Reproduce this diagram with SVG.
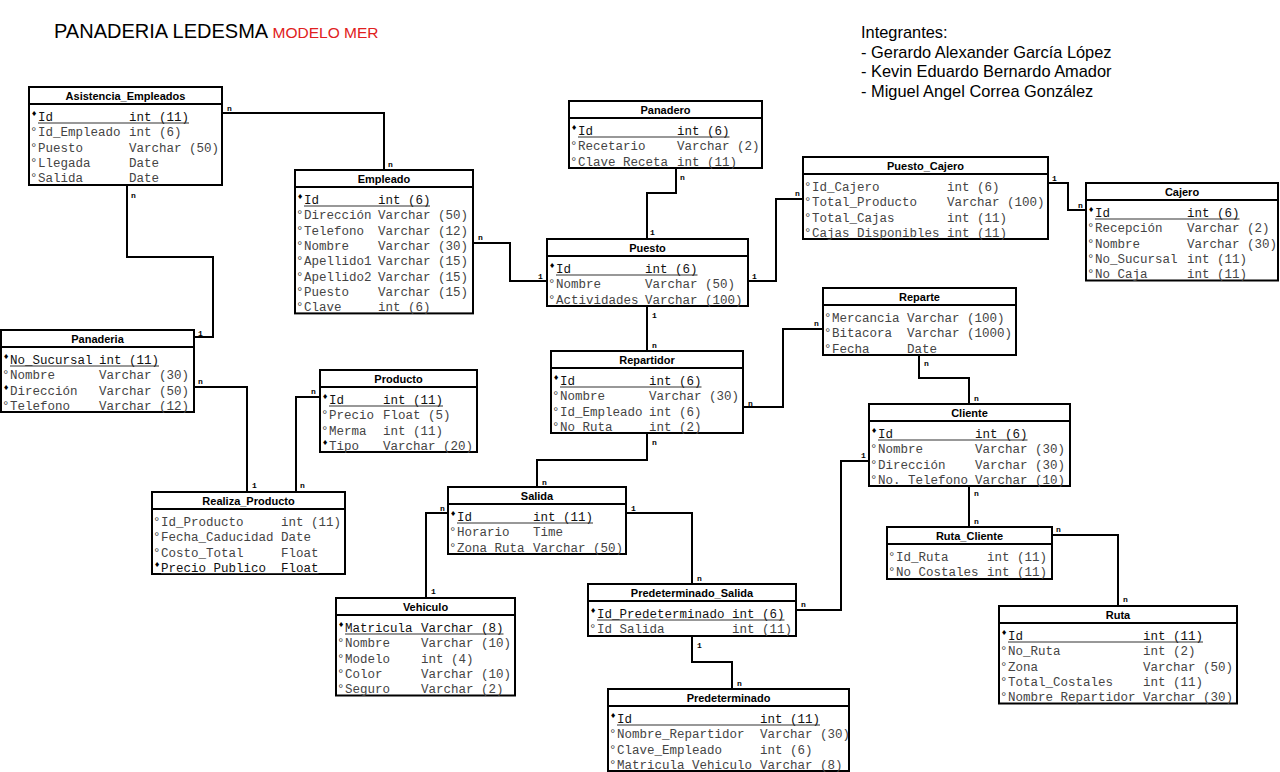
<svg xmlns="http://www.w3.org/2000/svg" width="1280" height="772" viewBox="0 0 1280 772">
<style>
.box{fill:#fff;stroke:#000;stroke-width:2}
.sep{stroke:#000;stroke-width:2}
.ttl{font-family:"Liberation Sans",Arial,sans-serif;font-weight:bold;font-size:11px;text-anchor:middle;fill:#000}
.a{font-family:"Liberation Mono","Courier New",monospace;font-size:12.5px;fill:#444}
.k{font-family:"Liberation Mono","Courier New",monospace;font-size:12.5px;fill:#111}
.d{font-family:"DejaVu Sans",sans-serif;font-size:7px;fill:#000}
.ul{stroke:#333;stroke-width:1.2}
.cn{fill:none;stroke:#000;stroke-width:2}
.lb{font-family:"Liberation Mono","Courier New",monospace;font-size:8px;font-weight:bold;fill:#000}
.hd{font-family:"Liberation Sans",Arial,sans-serif;fill:#000}
</style>
<rect width="1280" height="772" fill="#fff"/>
<g id="header">
<text class="hd" x="54" y="38" font-size="20">PANADERIA LEDESMA <tspan fill="#e02020" font-size="15.5">MODELO MER</tspan></text>
<text class="hd" x="861" y="38" font-size="16.4">Integrantes:</text>
<text class="hd" x="861" y="57.5" font-size="16.4">- Gerardo Alexander García López</text>
<text class="hd" x="861" y="77" font-size="16.4">- Kevin Eduardo Bernardo Amador</text>
<text class="hd" x="861" y="96.5" font-size="16.4">- Miguel Angel Correa González</text>
</g>
<g id="connectors">
<path class="cn" d="M222,113 H384 V170"/><text class="lb" x="227" y="111">n</text><text class="lb" x="388" y="167">n</text>
<path class="cn" d="M127,185 V257 H213 V337 H194"/><text class="lb" x="131" y="198">n</text><text class="lb" x="198" y="336">1</text>
<path class="cn" d="M473,243 H510 V281 H547"/><text class="lb" x="478" y="240">n</text><text class="lb" x="538" y="279">1</text>
<path class="cn" d="M676,167 V193 H647 V239"/><text class="lb" x="680" y="180">n</text><text class="lb" x="650" y="235">1</text>
<path class="cn" d="M748,281 H776 V199 H803"/><text class="lb" x="752" y="279">1</text><text class="lb" x="795" y="196">n</text>
<path class="cn" d="M1048,183 H1068 V210 H1086"/><text class="lb" x="1052" y="181">1</text><text class="lb" x="1078" y="208">n</text>
<path class="cn" d="M647,307 V351"/><text class="lb" x="652" y="318">1</text><text class="lb" x="652" y="348">n</text>
<path class="cn" d="M743,407 H783 V329 H823"/><text class="lb" x="748" y="406">n</text><text class="lb" x="814" y="326">n</text>
<path class="cn" d="M919,354 V378 H969 V404"/><text class="lb" x="924" y="366">n</text><text class="lb" x="974" y="401">n</text>
<path class="cn" d="M647,433 V460 H537 V487"/><text class="lb" x="652" y="445">n</text><text class="lb" x="542" y="485">n</text>
<path class="cn" d="M448,513 H426 V598"/><text class="lb" x="440" y="511">n</text><text class="lb" x="431" y="594">1</text>
<path class="cn" d="M626,513 H692 V584"/><text class="lb" x="631" y="511">1</text><text class="lb" x="697" y="581">n</text>
<path class="cn" d="M796,610 H841 V461 H869"/><text class="lb" x="801" y="607">n</text><text class="lb" x="861" y="458">1</text>
<path class="cn" d="M692,636 V662 H732 V689"/><text class="lb" x="697" y="648">1</text><text class="lb" x="737" y="686">n</text>
<path class="cn" d="M969,486 V527"/><text class="lb" x="974" y="496">n</text><text class="lb" x="974" y="524">n</text>
<path class="cn" d="M1052,535 H1118 V606"/><text class="lb" x="1056" y="532">n</text><text class="lb" x="1123" y="602">n</text>
<path class="cn" d="M194,387 H247 V492"/><text class="lb" x="198" y="384">n</text><text class="lb" x="252" y="488">1</text>
<path class="cn" d="M320,397 H296 V492"/><text class="lb" x="311" y="394">n</text><text class="lb" x="300" y="488">n</text>
</g>
<g id="asistencia_empleados">
<rect class="box" x="29" y="87" width="193" height="98"/><line class="sep" x1="29" y1="104" x2="222" y2="104"/>
<text class="ttl" x="125.5" y="100">Asistencia_Empleados</text>
<text class="d" x="31" y="116">♦</text><text class="k" x="38" y="121">Id</text><text class="k" x="129" y="121">int (11)</text><line class="ul" x1="38" y1="123" x2="189" y2="123"/>
<text class="a" x="30" y="136.3">°</text><text class="a" x="38" y="136.3">Id_Empleado</text><text class="a" x="129" y="136.3">int (6)</text>
<text class="a" x="30" y="151.6">°</text><text class="a" x="38" y="151.6">Puesto</text><text class="a" x="129" y="151.6">Varchar (50)</text>
<text class="a" x="30" y="166.9">°</text><text class="a" x="38" y="166.9">Llegada</text><text class="a" x="129" y="166.9">Date</text>
<text class="a" x="30" y="182.2">°</text><text class="a" x="38" y="182.2">Salida</text><text class="a" x="129" y="182.2">Date</text>
</g>
<g id="empleado">
<rect class="box" x="295" y="170" width="178" height="143.4"/><line class="sep" x1="295" y1="187" x2="473" y2="187"/>
<text class="ttl" x="384" y="183">Empleado</text>
<text class="d" x="297" y="199">♦</text><text class="k" x="304" y="204">Id</text><text class="k" x="378" y="204">int (6)</text><line class="ul" x1="304" y1="206" x2="430" y2="206"/>
<text class="a" x="296" y="219.3">°</text><text class="a" x="304" y="219.3">Dirección</text><text class="a" x="378" y="219.3">Varchar (50)</text>
<text class="a" x="296" y="234.6">°</text><text class="a" x="304" y="234.6">Telefono</text><text class="a" x="378" y="234.6">Varchar (12)</text>
<text class="a" x="296" y="249.9">°</text><text class="a" x="304" y="249.9">Nombre</text><text class="a" x="378" y="249.9">Varchar (30)</text>
<text class="a" x="296" y="265.2">°</text><text class="a" x="304" y="265.2">Apellido1</text><text class="a" x="378" y="265.2">Varchar (15)</text>
<text class="a" x="296" y="280.5">°</text><text class="a" x="304" y="280.5">Apellido2</text><text class="a" x="378" y="280.5">Varchar (15)</text>
<text class="a" x="296" y="295.8">°</text><text class="a" x="304" y="295.8">Puesto</text><text class="a" x="378" y="295.8">Varchar (15)</text>
<text class="a" x="296" y="311.1">°</text><text class="a" x="304" y="311.1">Clave</text><text class="a" x="378" y="311.1">int (6)</text>
</g>
<g id="panadero">
<rect class="box" x="569" y="101" width="193" height="67"/><line class="sep" x1="569" y1="118" x2="762" y2="118"/>
<text class="ttl" x="665.5" y="114">Panadero</text>
<text class="d" x="571" y="130">♦</text><text class="k" x="578" y="135">Id</text><text class="k" x="677" y="135">int (6)</text><line class="ul" x1="578" y1="137" x2="729.5" y2="137"/>
<text class="a" x="570" y="150.3">°</text><text class="a" x="578" y="150.3">Recetario</text><text class="a" x="677" y="150.3">Varchar (2)</text>
<text class="a" x="570" y="165.6">°</text><text class="a" x="578" y="165.6">Clave Receta</text><text class="a" x="677" y="165.6">int (11)</text>
</g>
<g id="puesto">
<rect class="box" x="547" y="239" width="201" height="67"/><line class="sep" x1="547" y1="256" x2="748" y2="256"/>
<text class="ttl" x="647.5" y="252">Puesto</text>
<text class="d" x="549" y="268">♦</text><text class="k" x="556" y="273">Id</text><text class="k" x="645" y="273">int (6)</text><line class="ul" x1="556" y1="275" x2="697.5" y2="275"/>
<text class="a" x="548" y="288.3">°</text><text class="a" x="556" y="288.3">Nombre</text><text class="a" x="645" y="288.3">Varchar (50)</text>
<text class="a" x="548" y="303.6">°</text><text class="a" x="556" y="303.6">Actividades</text><text class="a" x="645" y="303.6">Varchar (100)</text>
</g>
<g id="puesto_cajero">
<rect class="box" x="803" y="157" width="245" height="82"/><line class="sep" x1="803" y1="174" x2="1048" y2="174"/>
<text class="ttl" x="925.5" y="170">Puesto_Cajero</text>
<text class="a" x="804" y="191">°</text><text class="a" x="812" y="191">Id_Cajero</text><text class="a" x="947" y="191">int (6)</text>
<text class="a" x="804" y="206.3">°</text><text class="a" x="812" y="206.3">Total_Producto</text><text class="a" x="947" y="206.3">Varchar (100)</text>
<text class="a" x="804" y="221.6">°</text><text class="a" x="812" y="221.6">Total_Cajas</text><text class="a" x="947" y="221.6">int (11)</text>
<text class="a" x="804" y="236.9">°</text><text class="a" x="812" y="236.9">Cajas Disponibles</text><text class="a" x="947" y="236.9">int (11)</text>
</g>
<g id="cajero">
<rect class="box" x="1086" y="183" width="192" height="97.5"/><line class="sep" x1="1086" y1="200" x2="1278" y2="200"/>
<text class="ttl" x="1182" y="196">Cajero</text>
<text class="d" x="1088" y="212">♦</text><text class="k" x="1095" y="217">Id</text><text class="k" x="1187" y="217">int (6)</text><line class="ul" x1="1095" y1="219" x2="1239.5" y2="219"/>
<text class="a" x="1087" y="232.3">°</text><text class="a" x="1095" y="232.3">Recepción</text><text class="a" x="1187" y="232.3">Varchar (2)</text>
<text class="a" x="1087" y="247.6">°</text><text class="a" x="1095" y="247.6">Nombre</text><text class="a" x="1187" y="247.6">Varchar (30)</text>
<text class="a" x="1087" y="262.9">°</text><text class="a" x="1095" y="262.9">No_Sucursal</text><text class="a" x="1187" y="262.9">int (11)</text>
<text class="a" x="1087" y="278.2">°</text><text class="a" x="1095" y="278.2">No Caja</text><text class="a" x="1187" y="278.2">int (11)</text>
</g>
<g id="panaderia">
<rect class="box" x="1" y="330" width="193" height="82"/><line class="sep" x1="1" y1="347" x2="194" y2="347"/>
<text class="ttl" x="97.5" y="343">Panaderia</text>
<text class="d" x="3" y="359">♦</text><text class="k" x="10" y="364">No_Sucursal</text><text class="k" x="99" y="364">int (11)</text><line class="ul" x1="10" y1="366" x2="159" y2="366"/>
<text class="a" x="2" y="379.3">°</text><text class="a" x="10" y="379.3">Nombre</text><text class="a" x="99" y="379.3">Varchar (30)</text>
<text class="d" x="3" y="389.6">♦</text><text class="a" x="10" y="394.6">Dirección</text><text class="a" x="99" y="394.6">Varchar (50)</text>
<text class="a" x="2" y="409.9">°</text><text class="a" x="10" y="409.9">Telefono</text><text class="a" x="99" y="409.9">Varchar (12)</text>
</g>
<g id="producto">
<rect class="box" x="320" y="370" width="157" height="82"/><line class="sep" x1="320" y1="387" x2="477" y2="387"/>
<text class="ttl" x="398.5" y="383">Producto</text>
<text class="d" x="322" y="399">♦</text><text class="k" x="329" y="404">Id</text><text class="k" x="383" y="404">int (11)</text><line class="ul" x1="329" y1="406" x2="443" y2="406"/>
<text class="a" x="321" y="419.3">°</text><text class="a" x="329" y="419.3">Precio</text><text class="a" x="383" y="419.3">Float (5)</text>
<text class="a" x="321" y="434.6">°</text><text class="a" x="329" y="434.6">Merma</text><text class="a" x="383" y="434.6">int (11)</text>
<text class="d" x="322" y="444.9">♦</text><text class="a" x="329" y="449.9">Tipo</text><text class="a" x="383" y="449.9">Varchar (20)</text>
</g>
<g id="realiza_producto">
<rect class="box" x="152" y="492" width="193" height="82"/><line class="sep" x1="152" y1="509" x2="345" y2="509"/>
<text class="ttl" x="248.5" y="505">Realiza_Producto</text>
<text class="a" x="153" y="526">°</text><text class="a" x="161" y="526">Id_Producto</text><text class="a" x="281" y="526">int (11)</text>
<text class="a" x="153" y="541.3">°</text><text class="a" x="161" y="541.3">Fecha_Caducidad</text><text class="a" x="281" y="541.3">Date</text>
<text class="a" x="153" y="556.6">°</text><text class="a" x="161" y="556.6">Costo_Total</text><text class="a" x="281" y="556.6">Float</text>
<text class="d" x="154" y="566.9">♦</text><text class="k" x="161" y="571.9">Precio Publico</text><text class="k" x="281" y="571.9">Float</text><line class="ul" x1="161" y1="573.5" x2="318.5" y2="573.5"/>
</g>
<g id="repartidor">
<rect class="box" x="551" y="351" width="192" height="82"/><line class="sep" x1="551" y1="368" x2="743" y2="368"/>
<text class="ttl" x="647" y="364">Repartidor</text>
<text class="d" x="553" y="380">♦</text><text class="k" x="560" y="385">Id</text><text class="k" x="649" y="385">int (6)</text><line class="ul" x1="560" y1="387" x2="701.5" y2="387"/>
<text class="a" x="552" y="400.3">°</text><text class="a" x="560" y="400.3">Nombre</text><text class="a" x="649" y="400.3">Varchar (30)</text>
<text class="a" x="552" y="415.6">°</text><text class="a" x="560" y="415.6">Id_Empleado</text><text class="a" x="649" y="415.6">int (6)</text>
<text class="a" x="552" y="430.9">°</text><text class="a" x="560" y="430.9">No Ruta</text><text class="a" x="649" y="430.9">int (2)</text>
</g>
<g id="reparte">
<rect class="box" x="823" y="288" width="193" height="67"/><line class="sep" x1="823" y1="305" x2="1016" y2="305"/>
<text class="ttl" x="919.5" y="301">Reparte</text>
<text class="a" x="824" y="322">°</text><text class="a" x="832" y="322">Mercancia</text><text class="a" x="907" y="322">Varchar (100)</text>
<text class="a" x="824" y="337.3">°</text><text class="a" x="832" y="337.3">Bitacora</text><text class="a" x="907" y="337.3">Varchar (1000)</text>
<text class="a" x="824" y="352.6">°</text><text class="a" x="832" y="352.6">Fecha</text><text class="a" x="907" y="352.6">Date</text>
</g>
<g id="cliente">
<rect class="box" x="869" y="404" width="201" height="82"/><line class="sep" x1="869" y1="421" x2="1070" y2="421"/>
<text class="ttl" x="969.5" y="417">Cliente</text>
<text class="d" x="871" y="433">♦</text><text class="k" x="878" y="438">Id</text><text class="k" x="975" y="438">int (6)</text><line class="ul" x1="878" y1="440" x2="1027.5" y2="440"/>
<text class="a" x="870" y="453.3">°</text><text class="a" x="878" y="453.3">Nombre</text><text class="a" x="975" y="453.3">Varchar (30)</text>
<text class="a" x="870" y="468.6">°</text><text class="a" x="878" y="468.6">Dirección</text><text class="a" x="975" y="468.6">Varchar (30)</text>
<text class="a" x="870" y="483.9">°</text><text class="a" x="878" y="483.9">No. Telefono</text><text class="a" x="975" y="483.9">Varchar (10)</text>
</g>
<g id="salida">
<rect class="box" x="448" y="487" width="178" height="67"/><line class="sep" x1="448" y1="504" x2="626" y2="504"/>
<text class="ttl" x="537" y="500">Salida</text>
<text class="d" x="450" y="516">♦</text><text class="k" x="457" y="521">Id</text><text class="k" x="533" y="521">int (11)</text><line class="ul" x1="457" y1="523" x2="593" y2="523"/>
<text class="a" x="449" y="536.3">°</text><text class="a" x="457" y="536.3">Horario</text><text class="a" x="533" y="536.3">Time</text>
<text class="a" x="449" y="551.6">°</text><text class="a" x="457" y="551.6">Zona Ruta</text><text class="a" x="533" y="551.6">Varchar (50)</text>
</g>
<g id="vehiculo">
<rect class="box" x="336" y="598" width="179" height="97.5"/><line class="sep" x1="336" y1="615" x2="515" y2="615"/>
<text class="ttl" x="425.5" y="611">Vehiculo</text>
<text class="d" x="338" y="627">♦</text><text class="k" x="345" y="632">Matricula</text><text class="k" x="421" y="632">Varchar (8)</text><line class="ul" x1="345" y1="634" x2="503.5" y2="634"/>
<text class="a" x="337" y="647.3">°</text><text class="a" x="345" y="647.3">Nombre</text><text class="a" x="421" y="647.3">Varchar (10)</text>
<text class="a" x="337" y="662.6">°</text><text class="a" x="345" y="662.6">Modelo</text><text class="a" x="421" y="662.6">int (4)</text>
<text class="a" x="337" y="677.9">°</text><text class="a" x="345" y="677.9">Color</text><text class="a" x="421" y="677.9">Varchar (10)</text>
<text class="a" x="337" y="693.2">°</text><text class="a" x="345" y="693.2">Seguro</text><text class="a" x="421" y="693.2">Varchar (2)</text>
</g>
<g id="predeterminado_salida">
<rect class="box" x="588" y="584" width="208" height="52"/><line class="sep" x1="588" y1="601" x2="796" y2="601"/>
<text class="ttl" x="692" y="597">Predeterminado_Salida</text>
<text class="d" x="590" y="613">♦</text><text class="k" x="597" y="618">Id_Predeterminado</text><text class="k" x="732" y="618">int (6)</text><line class="ul" x1="597" y1="620" x2="784.5" y2="620"/>
<text class="a" x="589" y="633.3">°</text><text class="a" x="597" y="633.3">Id Salida</text><text class="a" x="732" y="633.3">int (11)</text>
</g>
<g id="predeterminado">
<rect class="box" x="608" y="689" width="241" height="82"/><line class="sep" x1="608" y1="706" x2="849" y2="706"/>
<text class="ttl" x="728.5" y="702">Predeterminado</text>
<text class="d" x="610" y="718">♦</text><text class="k" x="617" y="723">Id</text><text class="k" x="760" y="723">int (11)</text><line class="ul" x1="617" y1="725" x2="820" y2="725"/>
<text class="a" x="609" y="738.3">°</text><text class="a" x="617" y="738.3">Nombre_Repartidor</text><text class="a" x="760" y="738.3">Varchar (30)</text>
<text class="a" x="609" y="753.6">°</text><text class="a" x="617" y="753.6">Clave_Empleado</text><text class="a" x="760" y="753.6">int (6)</text>
<text class="a" x="609" y="768.9">°</text><text class="a" x="617" y="768.9">Matricula Vehiculo</text><text class="a" x="760" y="768.9">Varchar (8)</text>
</g>
<g id="ruta_cliente">
<rect class="box" x="887" y="527" width="165" height="52"/><line class="sep" x1="887" y1="544" x2="1052" y2="544"/>
<text class="ttl" x="969.5" y="540">Ruta_Cliente</text>
<text class="a" x="888" y="561">°</text><text class="a" x="896" y="561">Id_Ruta</text><text class="a" x="987" y="561">int (11)</text>
<text class="a" x="888" y="576.3">°</text><text class="a" x="896" y="576.3">No Costales</text><text class="a" x="987" y="576.3">int (11)</text>
</g>
<g id="ruta">
<rect class="box" x="999" y="606" width="238" height="97.5"/><line class="sep" x1="999" y1="623" x2="1237" y2="623"/>
<text class="ttl" x="1118" y="619">Ruta</text>
<text class="d" x="1001" y="635">♦</text><text class="k" x="1008" y="640">Id</text><text class="k" x="1143" y="640">int (11)</text><line class="ul" x1="1008" y1="642" x2="1203" y2="642"/>
<text class="a" x="1000" y="655.3">°</text><text class="a" x="1008" y="655.3">No_Ruta</text><text class="a" x="1143" y="655.3">int (2)</text>
<text class="a" x="1000" y="670.6">°</text><text class="a" x="1008" y="670.6">Zona</text><text class="a" x="1143" y="670.6">Varchar (50)</text>
<text class="a" x="1000" y="685.9">°</text><text class="a" x="1008" y="685.9">Total_Costales</text><text class="a" x="1143" y="685.9">int (11)</text>
<text class="a" x="1000" y="701.2">°</text><text class="a" x="1008" y="701.2">Nombre Repartidor</text><text class="a" x="1143" y="701.2">Varchar (30)</text>
</g>
</svg>
